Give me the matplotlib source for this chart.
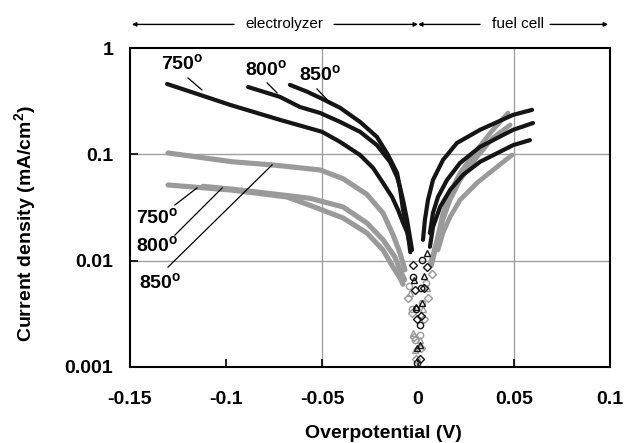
import matplotlib
matplotlib.use('Agg')
import matplotlib.pyplot as plt
import numpy as np

plt.rcParams['font.family'] = ['Liberation Sans', 'DejaVu Sans']
plt.rcParams['font.weight'] = 'bold'
plt.rcParams['mathtext.fontset'] = 'custom'
plt.rcParams['mathtext.rm'] = 'Liberation Sans:bold'
plt.rcParams['mathtext.bf'] = 'Liberation Sans:bold'

# current density (mA/cm2) vs overpotential (V)
# black series, electrolyzer branch (negative overpotential)
blk750_ex = [-0.1307, -0.115, -0.0979, -0.0719, -0.050, -0.0406, -0.0302, -0.0234, -0.0182, -0.0135,
             -0.0104, -0.0078, -0.0057, -0.0042, -0.0026, -0.0016, -0.0005]
blk750_ey = [0.459, 0.37, 0.292, 0.211, 0.163, 0.131, 0.0986, 0.0745, 0.0538, 0.0397,
             0.030, 0.0227, 0.0186, 0.0141, 0.0091, 0.0053, 0.0028]
blk800_ex = [-0.0885, -0.0719, -0.0615, -0.051, -0.0406, -0.0302, -0.0214, -0.0146, -0.0109, -0.0094,
             -0.0078, -0.0057, -0.0031, -0.0022, -0.0012, -0.0005]
blk800_ey = [0.43, 0.347, 0.279, 0.245, 0.202, 0.163, 0.122, 0.085, 0.0612, 0.0493,
             0.0372, 0.0242, 0.0126, 0.0066, 0.0037, 0.0015]
blk850_ex = [-0.0667, -0.058, -0.051, -0.0406, -0.0302, -0.0214, -0.0156, -0.0109, -0.0094, -0.0078,
             -0.0057, -0.0040, -0.0026, -0.0012, -0.0005]
blk850_ey = [0.45, 0.39, 0.34, 0.274, 0.202, 0.146, 0.0986, 0.0668, 0.0483, 0.030,
             0.0207, 0.0120, 0.0070, 0.0035, 0.0011]

# black series, fuel cell branch (positive overpotential)
blk750_fx = [0.0008, 0.0018, 0.0030, 0.0047, 0.0062, 0.0078, 0.0115, 0.0167, 0.0234, 0.0323, 0.0495, 0.0583]
blk750_fy = [0.0012, 0.0030, 0.0055, 0.0087, 0.0135, 0.0207, 0.032, 0.0462, 0.064, 0.085, 0.122, 0.136]
blk800_fx = [0.0008, 0.0020, 0.0033, 0.0047, 0.0062, 0.0078, 0.0104, 0.0151, 0.0219, 0.0323, 0.0495, 0.0599]
blk800_fy = [0.0016, 0.0040, 0.0072, 0.0118, 0.0182, 0.0281, 0.0397, 0.0574, 0.083, 0.1175, 0.17, 0.197]
blk850_fx = [0.0010, 0.0015, 0.0021, 0.0026, 0.0036, 0.0052, 0.0078, 0.013, 0.0203, 0.0323, 0.0495, 0.0594]
blk850_fy = [0.0025, 0.0055, 0.0102, 0.0157, 0.0242, 0.0372, 0.0574, 0.0885, 0.128, 0.17, 0.235, 0.262]

# gray series, electrolyzer branch
gry750_ex = [-0.1302, -0.0964, -0.0682, -0.056, -0.039, -0.0266, -0.0182, -0.013, -0.0094, -0.0078,
             -0.0050, -0.0031, -0.0020, -0.0010]
gry750_ey = [0.0515, 0.046, 0.0397, 0.033, 0.0252, 0.0182, 0.0126, 0.0087, 0.0069, 0.0060,
             0.0045, 0.0032, 0.0019, 0.0012]
gry800_ex = [-0.112, -0.0964, -0.0682, -0.056, -0.039, -0.0266, -0.0182, -0.012, -0.0094, -0.0070,
             -0.0042, -0.0026, -0.0016]
gry800_ey = [0.050, 0.047, 0.041, 0.0385, 0.032, 0.0226, 0.0157, 0.0108, 0.0082, 0.0066,
             0.0050, 0.0021, 0.00145]
gry850_ex = [-0.1302, -0.0964, -0.0755, -0.051, -0.039, -0.0266, -0.0182, -0.013, -0.0094, -0.0068,
             -0.0045, -0.0030, -0.0015]
gry850_ey = [0.103, 0.085, 0.0794, 0.0713, 0.059, 0.042, 0.028, 0.0175, 0.0118, 0.0082,
             0.0058, 0.0035, 0.0018]

# gray series, fuel cell branch
gry750_fx = [0.0015, 0.0030, 0.0050, 0.0075, 0.0104, 0.013, 0.0167, 0.0219, 0.0307, 0.039, 0.049]
gry750_fy = [0.0015, 0.0028, 0.0045, 0.0075, 0.0126, 0.0182, 0.0258, 0.0372, 0.0538, 0.071, 0.0986]
gry800_fx = [0.0012, 0.0025, 0.0045, 0.0070, 0.0099, 0.013, 0.0167, 0.0219, 0.0307, 0.039, 0.048]
gry800_fy = [0.0018, 0.0035, 0.0055, 0.0090, 0.0147, 0.0242, 0.0372, 0.0574, 0.0946, 0.1426, 0.189]
gry850_fx = [0.0010, 0.0022, 0.0040, 0.0065, 0.0099, 0.013, 0.0167, 0.0219, 0.0307, 0.039, 0.0469]
gry850_fy = [0.0020, 0.0040, 0.0062, 0.0095, 0.0157, 0.0281, 0.0434, 0.0668, 0.11, 0.17, 0.245]

xticks = [-0.15, -0.1, -0.05, 0, 0.05, 0.1]
xtick_labels = ['-0.15', '-0.1', '-0.05', '0', '0.05', '0.1']
yticks = [0.001, 0.01, 0.1, 1]
ytick_labels = ['0.001', '0.01', '0.1', '1']

BLACK = '#151515'
GRAY = '#9a9a9a'


def draw(ax, xs, ys, color, marker, lw, cut):
    xs = np.array(xs)
    ys = np.array(ys)
    band = ys >= cut
    # the dense measurement points read as a thick band; sparse tail points as open markers
    ax.plot(xs[band], ys[band], color=color, lw=lw, solid_capstyle='round',
            solid_joinstyle='round', zorder=3)
    ax.plot(xs[~band], ys[~band], ls='none', marker=marker, ms=4.5, mfc='none',
            mec=color, mew=1.0, zorder=4)


fig = plt.figure(figsize=(6.25, 4.43), dpi=100)
ax = fig.add_axes([0.208, 0.1716, 0.768, 0.72])
ax.set_yscale('log')
ax.set_xlim(-0.15, 0.1)
ax.set_ylim(0.001, 1)

ax.axvline(-0.05, color='#a0a0a0', lw=1.0, zorder=1)
ax.axvline(0.05, color='#a0a0a0', lw=1.0, zorder=1)
ax.axhline(0.1, color='#a0a0a0', lw=1.0, zorder=1)
ax.axhline(0.01, color='#a0a0a0', lw=1.0, zorder=1)

draw(ax, gry750_ex, gry750_ey, GRAY, 'D', 3.7, 0.006)
draw(ax, gry800_ex, gry800_ey, GRAY, '^', 3.7, 0.006)
draw(ax, gry850_ex, gry850_ey, GRAY, 'o', 3.7, 0.008)
draw(ax, gry750_fx, gry750_fy, GRAY, 'D', 3.4, 0.009)
draw(ax, gry800_fx, gry800_fy, GRAY, '^', 3.4, 0.009)
draw(ax, gry850_fx, gry850_fy, GRAY, 'o', 3.4, 0.009)
draw(ax, blk750_ex, blk750_ey, BLACK, 'D', 3.0, 0.012)
draw(ax, blk800_ex, blk800_ey, BLACK, '^', 3.0, 0.012)
draw(ax, blk850_ex, blk850_ey, BLACK, 'o', 3.0, 0.012)
draw(ax, blk750_fx, blk750_fy, BLACK, 'D', 3.0, 0.012)
draw(ax, blk800_fx, blk800_fy, BLACK, '^', 3.0, 0.012)
draw(ax, blk850_fx, blk850_fy, BLACK, 'o', 3.0, 0.012)

ax.set_xticks(xticks)
ax.set_xticklabels(xtick_labels)
ax.set_yticks(yticks)
ax.set_yticklabels(ytick_labels)
ax.minorticks_off()
ax.tick_params(axis='x', direction='in', length=6, width=1.2, pad=17, labelsize=14)
ax.tick_params(axis='y', direction='in', length=6, width=1.2, pad=12, labelsize=14)
for s in ax.spines.values():
    s.set_linewidth(1.5)
    s.set_color('black')

ax.set_xlabel('Overpotential (V)', fontsize=14, fontweight='bold')
ax.set_ylabel('Current density (mA/cm$^2$)', fontsize=14, fontweight='bold')
ax.xaxis.set_label_coords(0.527, -0.182)
ax.yaxis.set_label_coords(-0.19, 0.451)

# temperature labels with leader lines
lab = dict(fontsize=14, fontweight='bold', ha='center', va='center', zorder=6)
lead = dict(color='black', lw=0.9, zorder=6)
ax.text(-0.1229, 0.708, '750$^{\\mathrm{o}}$', **lab)
ax.plot([-0.1198, -0.1125], [0.523, 0.403], **lead)
ax.text(-0.0792, 0.622, '800$^{\\mathrm{o}}$', **lab)
ax.plot([-0.0786, -0.0734], [0.47, 0.378], **lead)
ax.text(-0.0510, 0.558, '850$^{\\mathrm{o}}$', **lab)
ax.plot([-0.0526, -0.0458], [0.412, 0.305], **lead)

ax.text(-0.1360, 0.0252, '750$^{\\mathrm{o}}$', **lab)
ax.plot([-0.1266, -0.1151], [0.0334, 0.0483], **lead)
ax.text(-0.1360, 0.0137, '800$^{\\mathrm{o}}$', **lab)
ax.plot([-0.1266, -0.1020], [0.0174, 0.0483], **lead)
ax.text(-0.1344, 0.0062, '850$^{\\mathrm{o}}$', **lab)
ax.plot([-0.1302, -0.0760], [0.0087, 0.0795], **lead)

# electrolyzer / fuel cell header above the axes
tr = ax.get_xaxis_transform()
ay = 1.074
arrow = dict(arrowstyle='-|>', color='black', lw=1.0, mutation_scale=6, shrinkA=0, shrinkB=0)
for tip, tail in [(-0.149, -0.0958), (0.0, -0.0437), (0.0, 0.0323), (0.099, 0.0688)]:
    ax.annotate('', xy=(tip, ay), xytext=(tail, ay), xycoords=tr, textcoords=tr,
                arrowprops=arrow, annotation_clip=False)
ax.text(-0.0698, ay, 'electrolyzer', transform=tr, ha='center', va='center',
        fontsize=11, fontweight='normal')
ax.text(0.0520, ay, 'fuel cell', transform=tr, ha='center', va='center',
        fontsize=11, fontweight='normal')

fig.savefig('out.png', dpi=100)
